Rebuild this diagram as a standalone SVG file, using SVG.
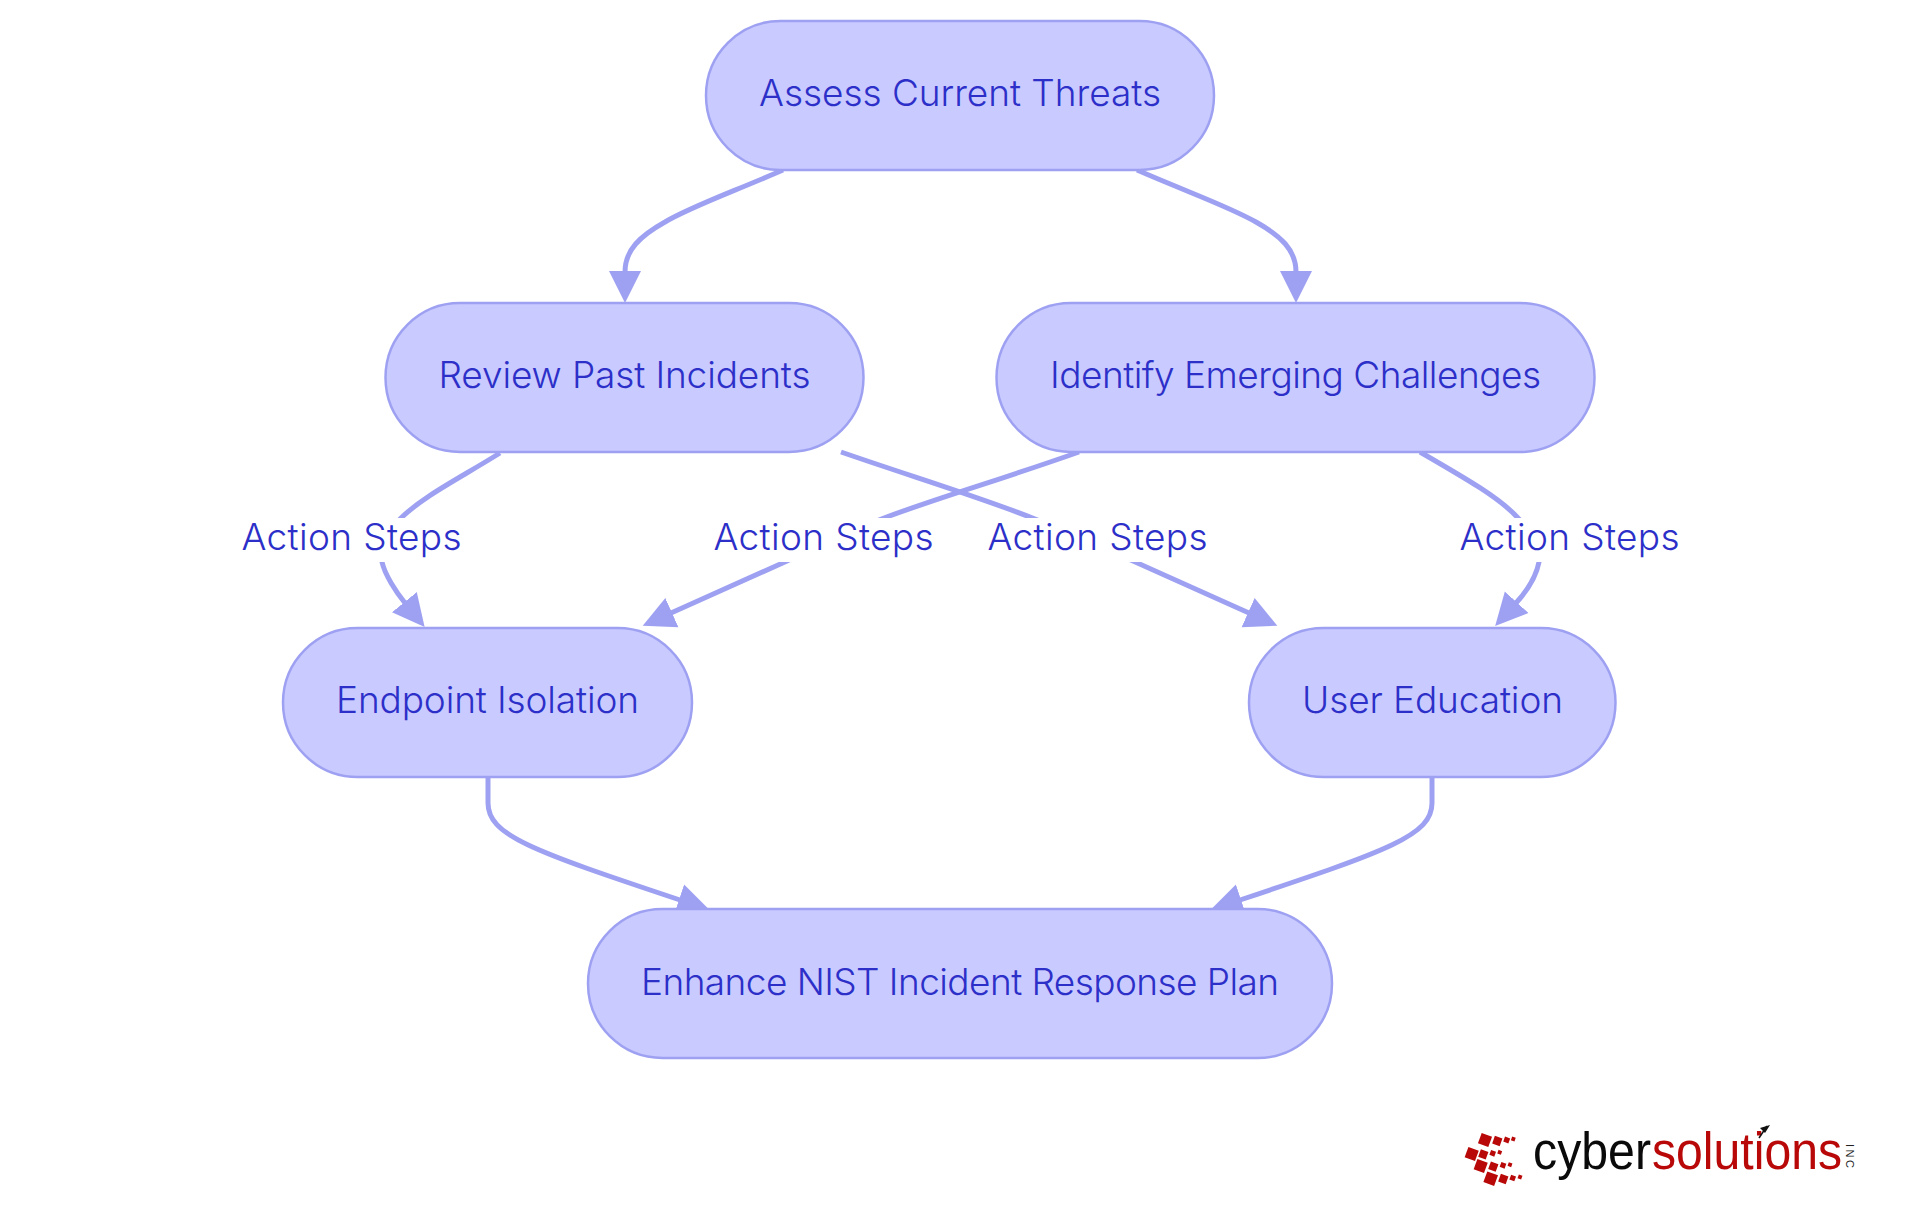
<svg xmlns="http://www.w3.org/2000/svg" width="1920" height="1215" viewBox="0 0 1920 1215">
<style>
.n{fill:#c9caff;stroke:#9ea1f2;stroke-width:2.5}
.t{font-family:Inter,"Noto Sans",sans-serif;font-size:37px;font-weight:300;fill:#2c2fc8;text-anchor:middle}
.e{fill:none;stroke:#9ea1f2;stroke-width:5}
.b{fill:#fff}
.r{fill:#b80808}
.l{font-family:"Liberation Sans",Arial,sans-serif;font-size:51px;font-weight:400}
</style>
<defs>
<marker id="a" markerUnits="userSpaceOnUse" markerWidth="34" markerHeight="36" refX="1" refY="18" orient="auto">
<path d="M0,2L32,18L0,34Z" fill="#9ea1f2"/>
</marker>
</defs>
<rect width="1920" height="1215" fill="#fff"/>
<g id="connectors">
<path class="e" marker-end="url(#a)" d="M783,170C730,193 690,207 665,222C640,236 625,250 625,272"/>
<path class="e" marker-end="url(#a)" d="M1137,170C1190,193 1230,207 1256,222C1281,236 1296,250 1296,272"/>
<path class="e" marker-end="url(#a)" d="M500,453C460,478 425,495 401,518C380,538 378,550 382,562C385,575 396,592 405,603"/>
<path class="e" marker-end="url(#a)" d="M1079,452C1000,480 940,497 884,518C850,531 820,546 787,561L671,613"/>
<path class="e" marker-end="url(#a)" d="M841,452C910,476 980,497 1035,519C1070,533 1100,547 1133,561L1249,613"/>
<path class="e" marker-end="url(#a)" d="M1420,452C1465,478 1500,498 1518,518C1535,535 1542,548 1539,562C1536,578 1526,592 1516,603"/>
<path class="e" marker-end="url(#a)" d="M488,777L488,803C488,835 530,850 680,900"/>
<path class="e" marker-end="url(#a)" d="M1432,777L1432,803C1432,835 1390,850 1240,900"/>
<g id="label-bd"><rect class="b" x="241" y="518" width="222" height="44"/><text class="t" x="351.500" y="550" textLength="220">Action Steps</text></g>
<g id="label-cd"><rect class="b" x="713" y="518" width="222" height="44"/><text class="t" x="823.500" y="550" textLength="220">Action Steps</text></g>
<g id="label-be"><rect class="b" x="987" y="518" width="222" height="44"/><text class="t" x="1097.500" y="550" textLength="220">Action Steps</text></g>
<g id="label-ce"><rect class="b" x="1459" y="518" width="222" height="44"/><text class="t" x="1569.500" y="550" textLength="220">Action Steps</text></g>
</g>
<g id="node-assess"><rect class="n" x="706" y="21" width="508" height="149" rx="74.5"/><text class="t" x="960" y="106" textLength="402">Assess Current Threats</text></g>
<g id="node-review"><rect class="n" x="385.500" y="303" width="478" height="149" rx="74.5"/><text class="t" x="624.500" y="388" textLength="372">Review Past Incidents</text></g>
<g id="node-identify"><rect class="n" x="996.500" y="303" width="598" height="149" rx="74.500"/><text class="t" x="1295.500" y="388" textLength="491">Identify Emerging Challenges</text></g>
<g id="node-endpoint"><rect class="n" x="283" y="628" width="409" height="149" rx="74.500"/><text class="t" x="487.500" y="713" textLength="303">Endpoint Isolation</text></g>
<g id="node-user"><rect class="n" x="1249" y="628" width="366.500" height="149" rx="74.500"/><text class="t" x="1432.500" y="713" textLength="261">User Education</text></g>
<g id="node-enhance"><rect class="n" x="588" y="909" width="744" height="149" rx="74.500"/><text class="t" x="960" y="995" textLength="638">Enhance NIST Incident Response Plan</text></g>
<g id="logo">
<g class="r">
<rect x="-5.500" y="-5.500" width="11" height="11" transform="translate(1485,1140) rotate(20)"/>
<rect x="-4" y="-4" width="8" height="8" transform="translate(1497.300,1141) rotate(20)"/>
<rect x="-2.700" y="-2.700" width="5.400" height="5.400" transform="translate(1506.700,1140) rotate(20)"/>
<rect x="-1.900" y="-1.900" width="3.800" height="3.800" transform="translate(1513.300,1139) rotate(20)"/>
<rect x="-5.500" y="-5.500" width="11" height="11" transform="translate(1471.700,1154) rotate(20)"/>
<rect x="-4" y="-4" width="8" height="8" transform="translate(1483.300,1154.300) rotate(20)"/>
<rect x="-2.600" y="-2.600" width="5.200" height="5.200" transform="translate(1492.700,1153.300) rotate(20)"/>
<rect x="-1.900" y="-1.900" width="3.800" height="3.800" transform="translate(1499.700,1152.300) rotate(20)"/>
<rect x="-5.500" y="-5.500" width="11" height="11" transform="translate(1480.700,1166) rotate(20)"/>
<rect x="-4" y="-4" width="8" height="8" transform="translate(1493.300,1166.700) rotate(20)"/>
<rect x="-2.600" y="-2.600" width="5.200" height="5.200" transform="translate(1503,1165.300) rotate(20)"/>
<rect x="-1.900" y="-1.900" width="3.800" height="3.800" transform="translate(1510,1164.700) rotate(20)"/>
<rect x="-5.700" y="-5.700" width="11.400" height="11.400" transform="translate(1490.700,1178.700) rotate(20)"/>
<rect x="-4" y="-4" width="8" height="8" transform="translate(1503.300,1179) rotate(20)"/>
<rect x="-2.600" y="-2.600" width="5.200" height="5.200" transform="translate(1512.700,1178) rotate(20)"/>
<rect x="-1.900" y="-1.900" width="3.800" height="3.800" transform="translate(1520,1177) rotate(20)"/>
</g>
<text class="l" x="1533" y="1169" textLength="118" lengthAdjust="spacingAndGlyphs" fill="#0a0a0a">cyber</text>
<text class="l" x="1652" y="1169" textLength="190" lengthAdjust="spacingAndGlyphs" fill="#b80808">solutions</text>
<text transform="translate(1846,1144) rotate(90)" font-family="Liberation Sans,Arial,sans-serif" font-size="11" fill="#222" textLength="24">INC</text>
<path d="M1759,1138L1767,1126" stroke="#111" stroke-width="1.500" fill="none"/>
<path d="M1770,1125L1760,1128L1765,1133Z" fill="#111"/>
</g>
</svg>
